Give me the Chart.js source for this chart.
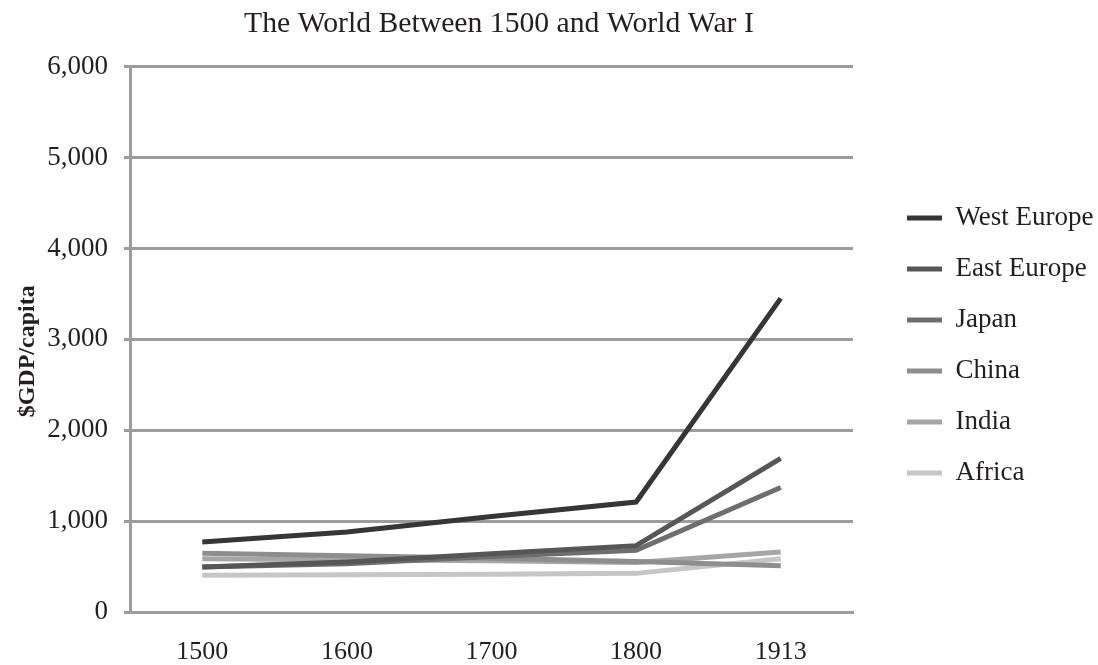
<!DOCTYPE html>
<html>
<head>
<meta charset="utf-8">
<script src="https://cdn.jsdelivr.net/npm/chart.js@4/dist/chart.umd.min.js"></script>
<style>
  html, body { margin: 0; padding: 0; background: #ffffff; }
  #wrap { width: 1098px; height: 665px; position: relative; }
</style>
</head>
<body>
<div id="wrap"><canvas id="c" width="1098" height="665"></canvas></div>
<script>
const years = ['1500', '1600', '1700', '1800', '1913'];
const westEurope = [770, 880, 1050, 1210, 3450];
const eastEurope = [495, 550, 640, 730, 1690];
const japan = [495, 530, 610, 680, 1370];
const china = [645, 620, 590, 555, 510];
const india = [585, 575, 565, 545, 660];
const africa = [405, 410, 415, 425, 585];
const yTicks = [0, 1000, 2000, 3000, 4000, 5000, 6000];

const seriesNames = ['West Europe', 'East Europe', 'Japan', 'China', 'India', 'Africa'];
const seriesData = [westEurope, eastEurope, japan, china, india, africa];
const seriesColors = ['#363636', '#565656', '#6e6e6e', '#8e8e8e', '#a6a6a6', '#c6c6c6'];

const FONT = '"Liberation Serif", "Times New Roman", serif';
const TEXT = '#231f20';
const GRID = '#9c9c9c';

Chart.defaults.font.family = FONT;
Chart.defaults.color = TEXT;

const datasets = seriesNames.map((name, i) => ({
  label: name,
  data: seriesData[i],
  borderColor: seriesColors[i],
  backgroundColor: seriesColors[i],
  borderWidth: 5,
  pointRadius: 0,
  pointHoverRadius: 0,
  tension: 0,
  fill: false,
  borderCapStyle: 'butt',
  borderJoinStyle: 'miter'
}));

// Fixed legend box width, a gap between plot and legend, and a small downward nudge.
const legendWidth = 240;
const legendGap = 30;
const legendDrop = 13;
const legendShift = {
  id: 'legendShift',
  beforeLayout(chart) {
    const lg = chart.legend;
    if (lg && !lg.__patched) {
      const origFit = lg.fit;
      lg.fit = function () { origFit.call(this); this.width = legendWidth; };
      lg.__patched = true;
    }
  },
  afterLayout(chart) {
    const lg = chart.legend;
    if (lg) {
      lg.left += legendGap;
      lg.top += legendDrop;
      lg.bottom += legendDrop;
    }
  }
};

new Chart(document.getElementById('c'), {
  type: 'line',
  data: { labels: years, datasets: datasets },
  plugins: [legendShift],
  options: {
    responsive: false,
    animation: false,
    devicePixelRatio: 1,
    layout: { padding: { left: 0, right: 5, top: 0, bottom: 0 } },
    plugins: {
      title: {
        display: true,
        fullSize: false,
        text: '  The World Between 1500 and World War I',
        font: { family: FONT, size: 29.7, weight: 'normal' },
        color: TEXT,
        padding: { top: 6, bottom: 25 }
      },
      legend: {
        display: true,
        position: 'right',
        align: 'center',
        labels: {
          boxWidth: 35,
          boxHeight: 5,
          padding: 24,
          color: TEXT,
          font: { family: FONT, size: 27 },
          generateLabels: function (chart) {
            const items = Chart.defaults.plugins.legend.labels.generateLabels(chart);
            items.forEach(it => { it.fillStyle = it.strokeStyle; it.lineWidth = 0; });
            return items;
          }
        }
      },
      tooltip: { enabled: false }
    },
    scales: {
      x: {
        type: 'category',
        offset: true,
        afterFit: function (scale) { scale.height = 53; },
        grid: { display: false, drawTicks: false },
        border: { display: true, color: GRID, width: 3 },
        ticks: { color: TEXT, font: { family: FONT, size: 26 }, padding: 25, maxRotation: 0 }
      },
      y: {
        min: 0,
        max: 6000,
        afterBuildTicks: function (scale) { scale.ticks = yTicks.map(v => ({ value: v })); },
        afterFit: function (scale) { scale.width = 130; },
        grid: { color: GRID, lineWidth: 3, drawTicks: true, tickLength: 6, tickColor: GRID },
        border: { display: true, color: GRID, width: 3 },
        ticks: {
          color: TEXT,
          font: { family: FONT, size: 27 },
          padding: 16,
          callback: v => Number(v).toLocaleString('en-US')
        },
        title: {
          display: true,
          text: '$GDP/capita    ',
          color: TEXT,
          font: { family: FONT, size: 24, weight: 'bold' },
          padding: { top: 13, bottom: 0 }
        }
      }
    }
  }
});
</script>
</body>
</html>
